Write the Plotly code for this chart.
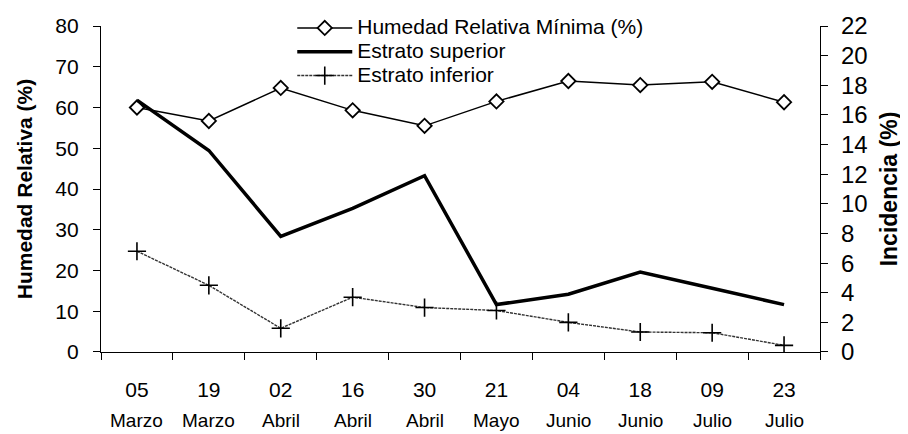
import plotly.graph_objects as go

dias = ['05', '19', '02', '16', '30', '21', '04', '18', '09', '23']
meses = ['Marzo', 'Marzo', 'Abril', 'Abril', 'Abril', 'Mayo', 'Junio', 'Junio', 'Julio', 'Julio']
fechas = [d + ' ' + m for d, m in zip(dias, meses)]

humedad_min = [60, 56.7, 64.8, 59.3, 55.5, 61.5, 66.5, 65.5, 66.3, 61.3]
estrato_sup = [17.0, 13.6, 7.8, 9.7, 11.9, 3.2, 3.9, 5.4, 4.3, 3.2]
estrato_inf = [6.8, 4.5, 1.6, 3.7, 3.0, 2.8, 2.0, 1.35, 1.3, 0.45]

FONT = 'Liberation Sans, Arial, sans-serif'


def big(s):
    # legend rows are spaced from legend.font.size, text drawn larger
    return '<span style="font-size:21px">' + s + '</span>'


fig = go.Figure()
fig.add_trace(go.Scatter(
    x=fechas, y=humedad_min, name=big('Humedad Relativa Mínima (%)'),
    mode='lines+markers', line=dict(color='black', width=1.5),
    marker=dict(symbol='diamond', size=11, color='white', line=dict(color='black', width=1.8)),
))
fig.add_trace(go.Scatter(
    x=fechas, y=estrato_sup, name=big('Estrato superior'), yaxis='y2',
    mode='lines', line=dict(color='black', width=3.5),
))
fig.add_trace(go.Scatter(
    x=fechas, y=estrato_inf, name=big('Estrato inferior'), yaxis='y2',
    mode='lines+markers', line=dict(color='#333333', width=1.4, dash='3px,1px'),
    marker=dict(symbol='cross-thin', size=13, color='black', line=dict(color='black', width=1.6)),
))

# month row under the day labels
for f, m in zip(fechas, meses):
    fig.add_annotation(x=f, y=0, xref='x', yref='paper', text=m, showarrow=False,
                       yanchor='top', yshift=-56, font=dict(family=FONT, size=19, color='black'))

# page body adds 8px, so figure is 900x426
# small top margin + y domain so the legend sits inside the paper
fig.update_layout(
    width=900, height=426,
    margin=dict(l=93, r=88, t=2, b=82, autoexpand=False),
    paper_bgcolor='white', plot_bgcolor='white',
    font=dict(family=FONT, color='black'),
    showlegend=True,
    legend=dict(x=0.266, y=0.997, xanchor='left', yanchor='top',
                bgcolor='rgba(0,0,0,0)', font=dict(family=FONT, size=16),
                itemwidth=55, tracegroupgap=0),
    xaxis=dict(type='category', categoryarray=fechas, range=[-0.5, 9.5],
               tickvals=fechas, ticktext=dias, tickson='boundaries',
               ticks='outside', ticklen=7, tickcolor='black',
               ticklabelstandoff=19, tickfont=dict(family=FONT, size=21),
               showline=True, linecolor='black', linewidth=1.2,
               showgrid=False, zeroline=False),
    yaxis=dict(domain=[0, 0.9532], range=[0, 80], dtick=10, ticks='outside', ticklen=7,
               tickcolor='black', tickfont=dict(family=FONT, size=21), ticklabelstandoff=10,
               showline=True, linecolor='black', linewidth=1.2,
               showgrid=False, zeroline=False,
               title=dict(text='<b>Humedad Relativa (%)</b>', font=dict(family=FONT, size=21),
                          standoff=16)),
    yaxis2=dict(range=[0, 22], dtick=2, overlaying='y', side='right',
                ticks='outside', ticklen=7, tickcolor='black',
                tickfont=dict(family=FONT, size=24), ticklabelstandoff=8,
                showline=True, linecolor='black', linewidth=1.2,
                showgrid=False, zeroline=False,
                title=dict(text='<b>Incidencia (%)</b>', font=dict(family=FONT, size=23),
                           standoff=14)),
    # inner halves of the crossing ticks
    xaxis2=dict(overlaying='x', anchor='y', range=[-0.5, 9.5],
                tickvals=[i - 0.5 for i in range(11)], ticks='inside', ticklen=6,
                tickcolor='black', showticklabels=False, showline=False,
                showgrid=False, zeroline=False),
    yaxis3=dict(overlaying='y', side='left', anchor='x', range=[0, 80], dtick=10,
                ticks='inside', ticklen=6, tickcolor='black', showticklabels=False,
                showline=False, showgrid=False, zeroline=False),
    yaxis4=dict(overlaying='y', side='right', anchor='x', range=[0, 22], dtick=2,
                ticks='inside', ticklen=6, tickcolor='black', showticklabels=False,
                showline=False, showgrid=False, zeroline=False),
)

fig.write_html('out.html')
